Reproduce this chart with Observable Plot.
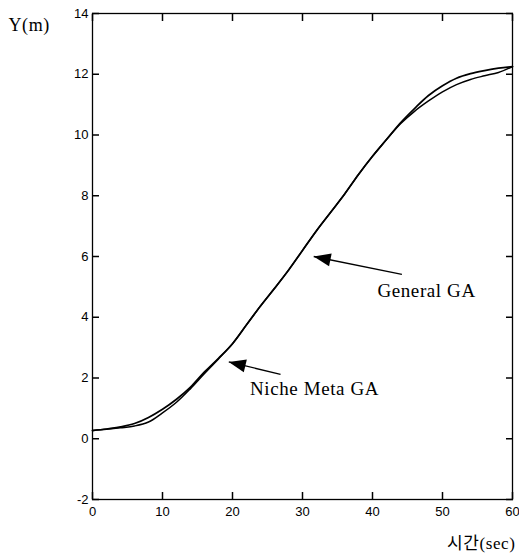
<!DOCTYPE html>
<html>
<head>
<meta charset="utf-8">
<script src="https://cdn.jsdelivr.net/npm/d3@7"></script>
<script src="https://cdn.jsdelivr.net/npm/@observablehq/plot@0.6"></script>
<style>
  html, body { margin: 0; padding: 0; background: #fff; }
</style>
</head>
<body>
<div id="chart"></div>
<script>
// Time (sec)
const timeSec = [0, 2, 4, 6, 8, 10, 12, 14, 16, 18, 20, 22, 24, 26, 28, 30, 32, 34, 36, 38, 40, 42, 44, 46, 48, 50, 52, 54, 56, 58, 60];
// Y(m) – upper trajectory
const yGeneralGA = [0.27, 0.32, 0.39, 0.5, 0.7, 0.97, 1.3, 1.7, 2.2, 2.65, 3.13, 3.75, 4.37, 4.95, 5.55, 6.2, 6.85, 7.45, 8.05, 8.7, 9.3, 9.85, 10.4, 10.87, 11.3, 11.62, 11.87, 12.02, 12.12, 12.2, 12.25];
// Y(m) – lower trajectory
const yNicheGA = [0.27, 0.31, 0.36, 0.42, 0.55, 0.85, 1.2, 1.65, 2.15, 2.63, 3.13, 3.75, 4.37, 4.95, 5.55, 6.2, 6.85, 7.45, 8.05, 8.7, 9.3, 9.85, 10.37, 10.78, 11.12, 11.42, 11.66, 11.83, 11.95, 12.06, 12.25];

const xTicks = [0, 10, 20, 30, 40, 50, 60];
const yTicks = [-2, 0, 2, 4, 6, 8, 10, 12, 14];

// Annotations
const annotLabels = ["General GA", "Niche Meta GA"];
const annotLabelT = [40.7, 22.5];
const annotLabelY = [4.87, 1.63];
const arrowTailT = [44.2, 26.86];
const arrowTailY = [5.41, 2.12];
const arrowTipT = [31.6, 19.47];
const arrowTipY = [6.0, 2.53];

const rows = timeSec.map((t, i) => ({t, a: yGeneralGA[i], b: yNicheGA[i]}));
const annots = annotLabels.map((label, i) => ({
  label, lt: annotLabelT[i], ly: annotLabelY[i],
  t1: arrowTailT[i], y1: arrowTailY[i], t2: arrowTipT[i], y2: arrowTipY[i]
}));

const W = 519, H = 560;
const mTop = 13, mRight = 7, mBottom = 61, mLeft = 92;
const xDomain = [0, 60], yDomain = [-2, 14];
const tickLen = 7;
const noLabel = () => "";
const serif = "'Liberation Serif', 'Times New Roman', 'Noto Sans CJK KR', serif";
const tickStyle = {tickFormat: noLabel, stroke: "#000", strokeWidth: 1.5, strokeOpacity: 1};

const plot = Plot.plot({
  width: W, height: H,
  marginTop: mTop, marginRight: mRight, marginBottom: mBottom, marginLeft: mLeft,
  style: {fontFamily: "'Liberation Sans', Arial, sans-serif", fontSize: "13px", background: "#fff", color: "#000"},
  x: {domain: xDomain, axis: null},
  y: {domain: yDomain, axis: null},
  marks: [
    // tick labels
    Plot.axisX({ticks: xTicks, tickSize: 0, tickPadding: 7, tickFormat: d => String(d)}),
    Plot.axisY({ticks: yTicks, tickSize: 0, tickPadding: 4, tickFormat: d => String(d)}),
    // inward ticks on all four sides
    Plot.axisX({ticks: xTicks, anchor: "bottom", tickSize: tickLen, dy: -tickLen, ...tickStyle}),
    Plot.axisX({ticks: xTicks, anchor: "top", tickSize: tickLen, dy: tickLen, ...tickStyle}),
    Plot.axisY({ticks: yTicks, anchor: "left", tickSize: tickLen, dx: tickLen, ...tickStyle}),
    Plot.axisY({ticks: yTicks, anchor: "right", tickSize: tickLen, dx: -tickLen, ...tickStyle}),
    Plot.frame({stroke: "#000", strokeWidth: 1.3}),
    Plot.line(rows, {x: "t", y: "a", curve: "catmull-rom", stroke: "#000", strokeWidth: 1.7}),
    Plot.line(rows, {x: "t", y: "b", curve: "catmull-rom", stroke: "#000", strokeWidth: 1.5}),
    Plot.link(annots, {x1: "t1", y1: "y1", x2: "t2", y2: "y2", stroke: "#000", strokeWidth: 1.3}),
    Plot.text(annots, {x: "lt", y: "ly", text: "label", textAnchor: "start", fontSize: 19, fontFamily: serif, fill: "#000"}),
    Plot.text(["Y(m)"], {frameAnchor: "top-left", dx: -84, dy: 5, textAnchor: "start", fontSize: 18, fontFamily: serif, fill: "#000"}),
    Plot.text(["시간(sec)"], {frameAnchor: "bottom-right", dx: 3, dy: 49, textAnchor: "end", fontSize: 17, fontFamily: serif, fill: "#000"})
  ]
});

document.getElementById("chart").appendChild(plot);

// Filled arrowheads on annotation links
const svg = d3.select(plot.tagName.toLowerCase() === "svg" ? plot : plot.querySelector("svg"));
const defs = svg.insert("defs", ":first-child");
defs.append("marker")
  .attr("id", "arrowhead-fill")
  .attr("markerUnits", "userSpaceOnUse")
  .attr("viewBox", "-18 -7 19 14")
  .attr("markerWidth", 19)
  .attr("markerHeight", 14)
  .attr("refX", 0)
  .attr("refY", 0)
  .attr("orient", "auto")
  .append("path")
  .attr("d", "M0,0L-17,-6.5L-17,6.5Z")
  .attr("fill", "#000");
svg.selectAll('g[aria-label="link"] path').attr("marker-end", "url(#arrowhead-fill)");
svg.selectAll('g[aria-label="text"] text').style("letter-spacing", "0.6px");
svg.selectAll('g[aria-label$="tick label"] text').attr("fill", "#000");
</script>
</body>
</html>
